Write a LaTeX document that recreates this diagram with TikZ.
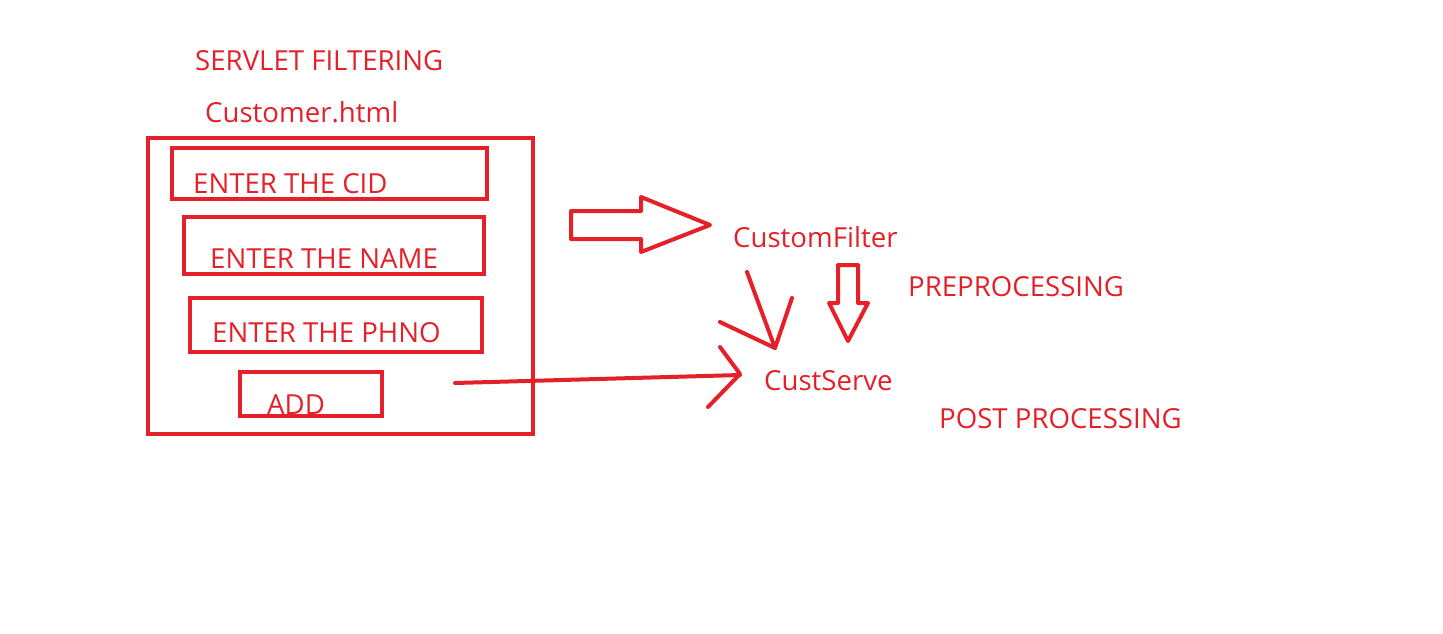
\documentclass[tikz,border=0pt]{standalone}
\usepackage{fontspec}
\setmainfont{Open Sans}
\definecolor{pen}{RGB}{228,32,40}
\begin{document}
\begin{tikzpicture}[x=1pt,y=-1pt,
  lbl/.style={anchor=base west,inner sep=0pt,text=pen,font=\fontsize{27.6}{32}\selectfont},
  box/.style={draw=pen,line width=4pt},
  stroke/.style={draw=pen,line width=4pt,line cap=round,line join=round}]
\useasboundingbox (0,0) rectangle (1443,633);
% labels
\node[lbl] (title) at (195,70) {SERVLET FILTERING};
\node[lbl] (html) at (205,122) {Customer.html};
% form boxes
\draw[box] (148,138) rectangle (533,434);
\draw[box] (172,148) rectangle (487,199);
\draw[box] (184,217) rectangle (484,274);
\draw[box] (190,298) rectangle (482,352);
\draw[box] (240,372) rectangle (382,416);
\node[lbl] (cid) at (193,193) {ENTER THE CID};
\node[lbl] (name) at (210,268) {ENTER THE NAME};
\node[lbl] (phno) at (212,342) {ENTER THE PHNO};
\node[lbl] (add) at (267,414) {ADD};
% right side labels
\node[lbl] (filter) at (733,247) {CustomFilter};
\node[lbl] (serve) at (764,390) {CustServe};
\node[lbl] (pre) at (908,296) {PREPROCESSING};
\node[lbl] (post) at (939,428) {POST PROCESSING};
% block arrow to filter
\draw[stroke] (571,211) -- (641,211) -- (641,197) -- (710,225) -- (641,252) -- (641,239) -- (571,239) -- cycle;
% down block arrow
\draw[stroke] (838,265) -- (858,265) -- (858,303) -- (868,303) -- (848,341) -- (829,303) -- (838,303) -- cycle;
% hand-drawn arrow filter -> serve
\coordinate (f1) at (747,272);
\coordinate (f2) at (775,348);
\draw[stroke] (f1) -- (f2);
\draw[stroke] (720,322) -- (f2) -- (792,298);
% hand-drawn arrow add -> serve
\coordinate (a1) at (455,383);
\coordinate (a2) at (740,375);
\draw[stroke] (a1) -- (a2);
\draw[stroke] (720,347) -- (740,374) -- (708,407);
\end{tikzpicture}
\end{document}
